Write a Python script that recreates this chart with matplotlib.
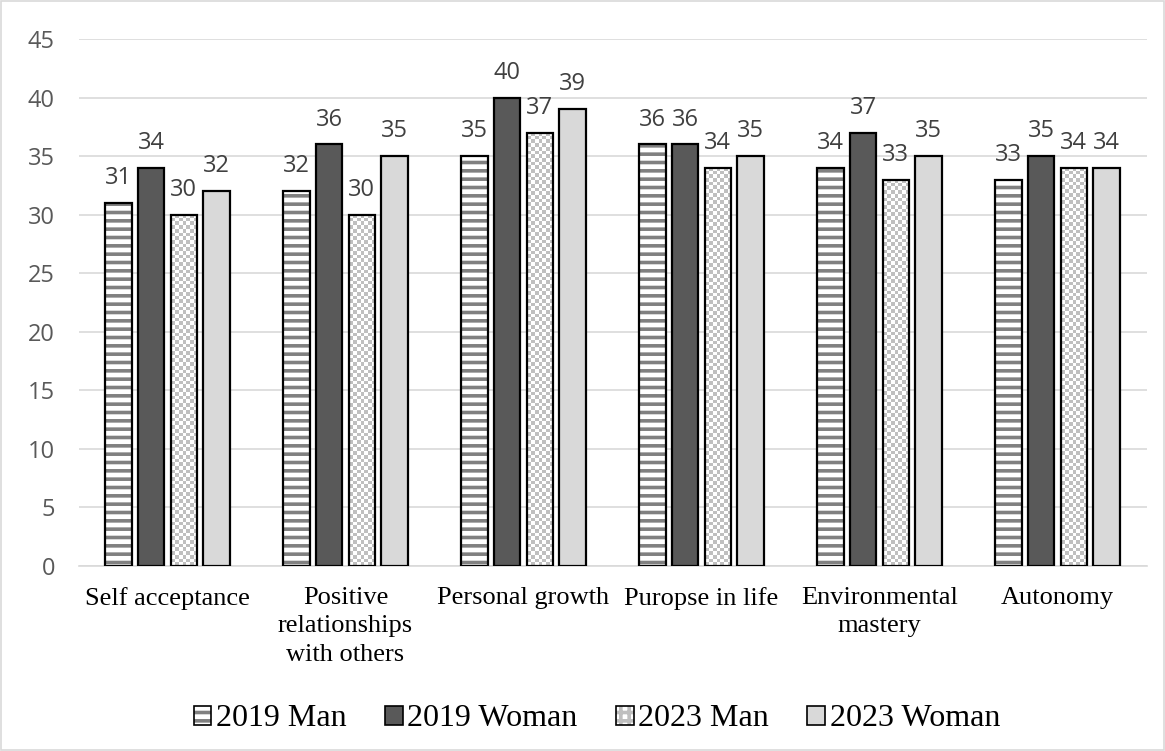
import numpy as np
import matplotlib
matplotlib.use("Agg")
import matplotlib.pyplot as plt
from matplotlib.patches import Patch, Rectangle
from matplotlib.legend_handler import HandlerTuple

plt.rcParams["hatch.linewidth"] = 2.6

# data
categories = ["Self acceptance", "Positive\nrelationships\nwith others", "Personal growth",
              "Puropse in life", "Environmental\nmastery", "Autonomy"]
series_names = ["2019 Man", "2019 Woman", "2023 Man", "2023 Woman"]
man_2019 = [31, 32, 35, 36, 34, 33]
woman_2019 = [34, 36, 40, 36, 37, 35]
man_2023 = [30, 30, 37, 34, 33, 34]
woman_2023 = [32, 35, 39, 35, 35, 34]
series = [man_2019, woman_2019, man_2023, woman_2023]

STRIPE_GRAY = "#808080"
CHECK_GRAY = "#bfbfbf"

fig = plt.figure(figsize=(11.65, 7.51), dpi=100)
fig.patches.append(Rectangle((0.001, 0.001), 0.998, 0.998, transform=fig.transFigure,
                             fill=False, edgecolor="#d9d9d9", linewidth=1.2))
ax_left, ax_right, ax_top, ax_bot = 78.5, 1146.5, 39, 566
ax = fig.add_axes([ax_left/1165, 1 - ax_bot/751, (ax_right - ax_left)/1165, (ax_bot - ax_top)/751])

x = np.arange(len(categories))
w = 0.148
pitch = 0.183
offsets = (np.arange(4) - 1.5) * pitch
px_per_x = (ax_right - ax_left) / len(categories)
px_per_y = (ax_bot - ax_top) / 45.0
cell = 3.7

def checker(x0, h):
    nx = max(1, int(round(w * px_per_x / cell)))
    ny = max(1, int(round(h * px_per_y / cell)))
    board = (np.add.outer(np.arange(ny), np.arange(nx)) % 2).astype(float)
    ax.imshow(board, extent=[x0, x0 + w, 0, h], aspect="auto", interpolation="nearest",
              cmap=matplotlib.colors.ListedColormap(["white", CHECK_GRAY]), zorder=2)

for i, (vals, off) in enumerate(zip(series, offsets)):
    if i == 0:
        ax.bar(x + off, vals, w, color="white", hatch="--", edgecolor=STRIPE_GRAY, linewidth=0, zorder=2)
        bars = ax.bar(x + off, vals, w, fill=False, edgecolor="black", linewidth=1.6, zorder=3)
    elif i == 2:
        bars = ax.bar(x + off, vals, w, fill=False, edgecolor="black", linewidth=1.6, zorder=3)
        for b, v in zip(bars, vals):
            checker(b.get_x(), v)
    else:
        face = "#595959" if i == 1 else "#d9d9d9"
        bars = ax.bar(x + off, vals, w, color=face, edgecolor="black", linewidth=1.6, zorder=3)
    for b, v in zip(bars, vals):
        ax.text(b.get_x() + b.get_width()/2, v + 1.1, str(v), ha="center", va="bottom",
                fontsize=17, color="#404040", family="Open Sans")

ax.set_xlim(-0.5, len(categories) - 0.5)
ax.set_ylim(0, 45)
ax.set_yticks(np.arange(0, 46, 5))
ax.yaxis.grid(True, color="#d9d9d9", linewidth=1.2, zorder=0)
ax.set_axisbelow(True)
for s in ["top", "right", "left"]:
    ax.spines[s].set_visible(False)
ax.spines["bottom"].set_color("#d9d9d9")
ax.spines["bottom"].set_linewidth(1.2)
ax.tick_params(axis="y", length=0, pad=17, labelsize=17, labelcolor="#595959")
for lab in ax.get_yticklabels():
    lab.set_family("Open Sans")
ax.set_xticks(x)
ax.set_xticklabels(categories, family="Liberation Serif", fontsize=19, linespacing=1.38)
ax.tick_params(axis="x", length=0, pad=15)

# legend handles
h_stripe = (Patch(facecolor="white", hatch="--", edgecolor=STRIPE_GRAY, linewidth=0),
            Patch(fill=False, edgecolor="black", linewidth=1.2))
h_dark = Patch(facecolor="#595959", edgecolor="black", linewidth=1.2)
h_check = (Patch(facecolor="white", hatch="++", edgecolor=CHECK_GRAY, linewidth=0),
           Patch(fill=False, edgecolor="black", linewidth=1.2))
h_light = Patch(facecolor="#d9d9d9", edgecolor="black", linewidth=1.2)
fig.legend([h_stripe, h_dark, h_check, h_light], series_names, loc="center",
           bbox_to_anchor=(597/1165, 1 - 719/751), ncol=4, frameon=False,
           prop={"family": "Liberation Serif", "size": 23},
           handler_map={tuple: HandlerTuple(ndivide=1)},
           handlelength=0.55, handleheight=0.55, handletextpad=0.15, columnspacing=1.2)

fig.savefig("out.png", dpi=100)
